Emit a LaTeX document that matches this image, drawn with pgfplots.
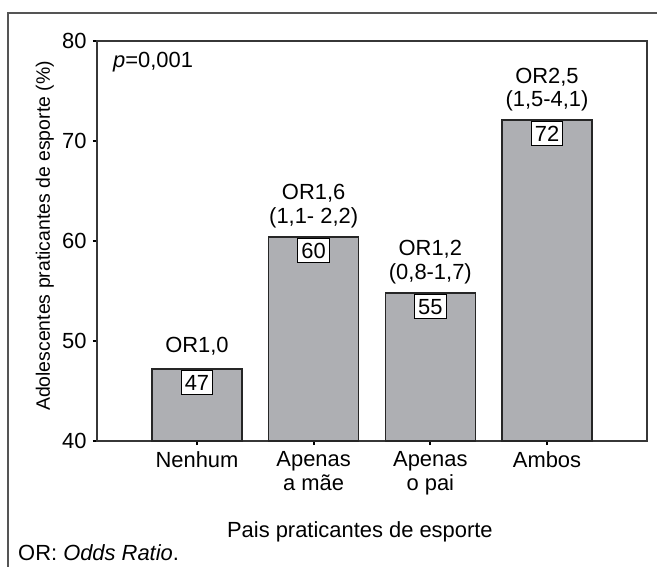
\documentclass[border=0pt]{standalone}
\usepackage{pgfplots}
\pgfplotsset{compat=1.18}
\usepackage{fontspec}
\setmainfont{Liberation Sans}
\definecolor{barfill}{RGB}{174,175,179}
\definecolor{axgray}{RGB}{55,55,55}
\definecolor{framegray}{RGB}{85,85,85}
\newcommand\lab{\fontsize{22}{24}\selectfont}
\newcommand\ylab{\fontsize{19.5}{22}\selectfont}
\begin{document}
\begin{tikzpicture}
\begin{axis}[
  at={(0,0)}, anchor=south west,
  scale only axis, width=550bp, height=400bp,
  xmin=-0.857, xmax=3.857, ymin=40, ymax=80,
  ytick={40,50,60,70,80},
  xtick={0,1,2,3},
  xticklabels={Nenhum,{Apenas\\a mãe},{Apenas\\o pai},Ambos},
  tick pos=left, tick align=outside,
  major tick length=4bp,
  every tick/.style={black, line width=2.2bp},
  axis line style={axgray, line width=1.3bp},
  /pgf/number format/assume math mode=true,
  ticklabel style={font=\lab},
  xticklabel style={align=center, yshift=-3bp},
  yticklabel style={xshift=-3bp},
  label style={font=\lab},
  xlabel={Pais praticantes de esporte},
  xlabel style={at={(axis description cs:0.478,-0.2425)}, anchor=base},
  ylabel={Adolescentes praticantes de esporte (\%)},
  ylabel style={at={(axis description cs:-0.0855,0.5125)}, anchor=base, font=\ylab},
]
\addplot[ybar, bar width=0.771, fill=barfill, draw=black!85, line width=1.2bp,
  nodes near coords, point meta=explicit symbolic,
  every node near coord/.append style={anchor=north, yshift=-0.6bp, fill=white, draw=black,
    line width=1.2bp, font=\lab, inner xsep=3.6bp, inner ysep=0.5bp, text height=20bp, text depth=3bp}]
  coordinates {(0,47.2) [47] (1,60.4) [60] (2,54.8) [55] (3,72.1) [72]};
\addplot[draw=none, mark=none, nodes near coords, point meta=explicit symbolic,
  every node near coord/.append style={anchor=base, yshift=37bp, font=\lab}]
  coordinates {(1,60.4) [{OR1,6}] (2,54.8) [{OR1,2}] (3,72.1) [{OR2,5}]};
\addplot[draw=none, mark=none, nodes near coords, point meta=explicit symbolic,
  every node near coord/.append style={anchor=base, yshift=14bp, font=\lab}]
  coordinates {(1,60.4) [{(1,1- 2,2)}] (2,54.8) [{(0,8-1,7)}] (3,72.1) [{(1,5-4,1)}]};
\addplot[draw=none, mark=none, nodes near coords, point meta=explicit symbolic,
  every node near coord/.append style={anchor=base, yshift=17bp, font=\lab}]
  coordinates {(0,47.2) [{OR1,0}]};
\node[anchor=base west, font=\lab, inner sep=0pt] at (axis description cs:0.029,0.935) {\textit{p}=0,001};
\end{axis}
\draw[framegray, line width=1.3bp] (-89bp,-130bp) -- (-89bp,428bp) -- (565bp,428bp);
\node[anchor=base west, font=\lab, inner sep=0pt] at (-79bp,-119bp) {OR: \textit{Odds Ratio}.};
\pgfresetboundingbox
\useasboundingbox (-97bp,-126bp) rectangle (560bp,441bp);
\end{tikzpicture}
\end{document}
